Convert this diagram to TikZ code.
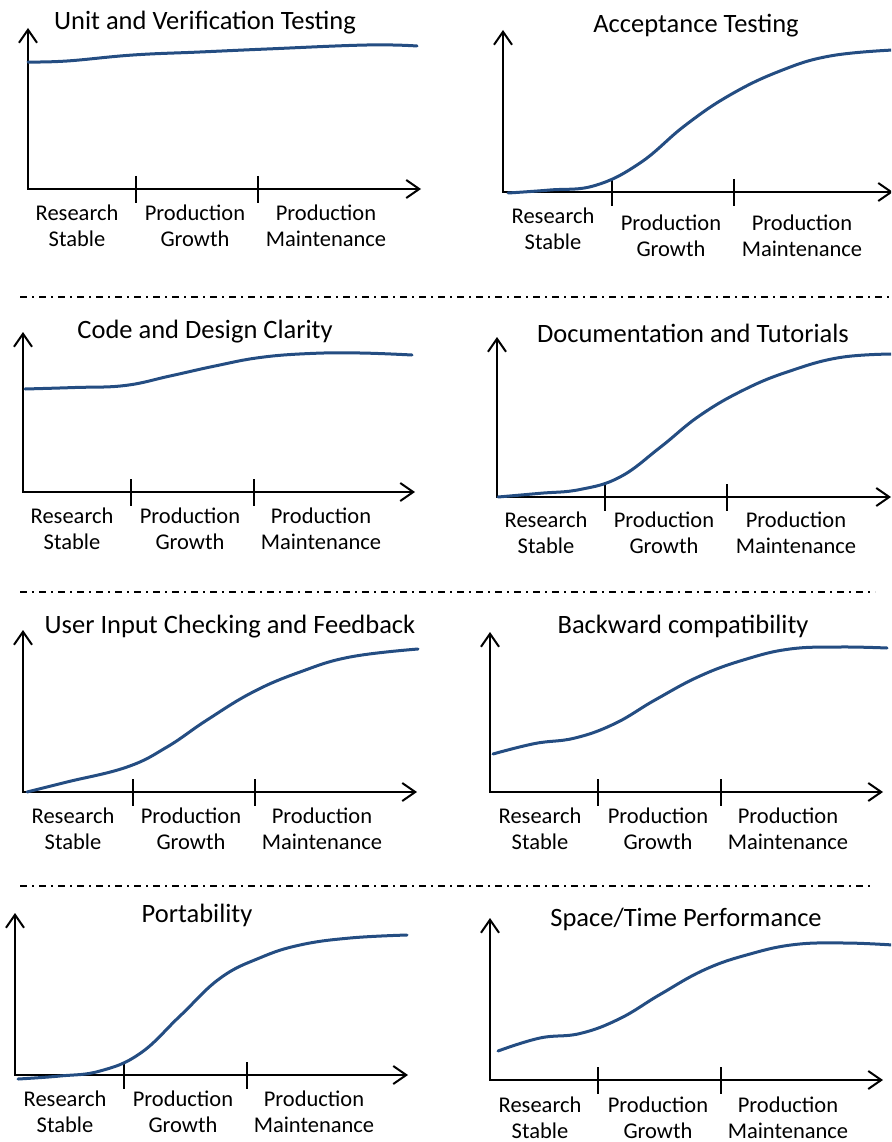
\documentclass[tikz,border=0pt]{standalone}
\usepackage{fontspec}
\setmainfont{Carlito}
\usetikzlibrary{arrows.meta}
\definecolor{curveblue}{RGB}{36,77,130}
\tikzset{
  axis/.style={line width=2pt, black, line join=miter, {Straight Barb[length=13pt,width=18pt]}-{Straight Barb[length=13pt,width=18pt]}},
  tickmark/.style={line width=1.4pt, black},
  curve/.style={line width=3pt, curveblue, line cap=round},
  sep/.style={line width=1.3pt, black, dash pattern=on 7pt off 5pt on 2pt off 5pt},
  lbl/.style={inner sep=0pt, anchor=base, font=\fontsize{22.5}{27}\selectfont},
  ttl/.style={inner sep=0pt, anchor=base, font=\fontsize{26.5}{31}\selectfont},
}
\newcommand\chartaxes[7]{% name, x0, y0, ytop, xtip, tick1, tick2
  \coordinate (#1o) at (#2,#3);
  \coordinate (#1y) at (#2,#4);
  \coordinate (#1x) at (#5,#3);
  \coordinate (#1ta) at (#6,#3-13); \coordinate (#1tb) at (#6,#3+14);
  \coordinate (#1tc) at (#7,#3-13); \coordinate (#1td) at (#7,#3+14);
  \draw[axis] (#1y) -- (#1o) -- (#1x);
  \draw[tickmark] (#1ta) -- (#1tb);
  \draw[tickmark] (#1tc) -- (#1td);
}
\newcommand\twolbl[5]{% name, x, baseline, line1, line2
  \node[lbl] (#1a) at (#2,#3) {#4};
  \node[lbl] (#1b) at (#2,#3+26.5) {#5};
}
\begin{document}
\begin{tikzpicture}[x=1pt,y=-1pt]
\useasboundingbox (0,0) rectangle (891,1142);
\clip (0,0) rectangle (891,1142);

% separators
\coordinate (s1a) at (20,297); \coordinate (s1b) at (891,297);
\coordinate (s2a) at (20,592); \coordinate (s2b) at (875,592);
\coordinate (s3a) at (20,886); \coordinate (s3b) at (870,886);
\draw[sep] (s1a) -- (s1b);
\draw[sep] (s2a) -- (s2b);
\draw[sep] (s3a) -- (s3b);

% Panel 1
\node[ttl] (t1) at (205,30) {Unit and Verification Testing};
\chartaxes{p1}{28}{189}{28}{421}{136}{258}
\draw[curve] plot[smooth, tension=0.7] coordinates {(28,62) (67,61) (133,55) (200,52) (267,49) (367,45) (417,46)};
\twolbl{p1r}{77}{220}{Research}{Stable}
\twolbl{p1g}{195}{220}{Production}{Growth}
\twolbl{p1m}{326}{220}{Production}{Maintenance}

% Panel 2
\node[ttl] (t2) at (696,33) {Acceptance Testing};
\chartaxes{p2}{503}{192}{30}{893}{612}{734}
\draw[curve] plot[smooth, tension=0.7] coordinates {(508,193) (550,190) (595,185.5) (640,163) (685,125.5) (730,95) (780,71) (830,56) (893,50)};
\twolbl{p2r}{553}{223}{Research}{Stable}
\twolbl{p2g}{671}{230}{Production}{Growth}
\twolbl{p2m}{802}{230}{Production}{Maintenance}

% Panel 3
\node[ttl] (t3) at (205,338) {Code and Design Clarity};
\chartaxes{p3}{23}{492}{332}{415}{131}{254}
\draw[curve] plot[smooth, tension=0.7] coordinates {(25,389) (75,387.5) (125,385.5) (170,376) (215,366) (260,357.5) (310,353.5) (360,353) (412,355)};
\twolbl{p3r}{72}{523}{Research}{Stable}
\twolbl{p3g}{190}{523}{Production}{Growth}
\twolbl{p3m}{321}{523}{Production}{Maintenance}

% Panel 4
\node[ttl] (t4) at (693,342) {Documentation and Tutorials};
\chartaxes{p4}{497}{497}{337}{891}{605}{727}
\draw[curve] plot[smooth, tension=0.7] coordinates {(498,497) (540,493.3) (580,489.5) (620,477) (660,447.5) (700,415.4) (745,389.3) (790,371) (840,357.5) (893,354)};
\twolbl{p4r}{546}{527}{Research}{Stable}
\twolbl{p4g}{664}{527}{Production}{Growth}
\twolbl{p4m}{796}{527}{Production}{Maintenance}

% Panel 5
\node[ttl] (t5) at (230,633) {User Input Checking and Feedback};
\chartaxes{p5}{23}{792}{630}{417}{133}{255}
\draw[curve] plot[smooth, tension=0.7] coordinates {(27,792) (67,782) (127,767) (167,747) (207,720) (253,692) (300,672) (350,657) (418,649)};
\twolbl{p5r}{73}{823}{Research}{Stable}
\twolbl{p5g}{191}{823}{Production}{Growth}
\twolbl{p5m}{322}{823}{Production}{Maintenance}

% Panel 6
\node[ttl] (t6) at (683,633) {Backward compatibility};
\chartaxes{p6}{490}{792}{632}{883}{598}{721}
\draw[curve] plot[smooth, tension=0.7] coordinates {(493,754) (535,743.5) (575,738) (615,723.5) (655,700) (700,676) (745,659.5) (790,649) (840,647) (887,648)};
\twolbl{p6r}{540}{823}{Research}{Stable}
\twolbl{p6g}{658}{823}{Production}{Growth}
\twolbl{p6m}{788}{823}{Production}{Maintenance}

% Panel 7
\node[ttl] (t7) at (197,922) {Portability};
\chartaxes{p7}{15}{1075}{913}{408}{124}{247}
\draw[curve] plot[smooth, tension=0.7] coordinates {(18,1079) (60,1076) (100,1071) (140,1053.5) (180,1016) (220,978.3) (260,957.8) (300,945) (350,938) (407,935)};
\twolbl{p7r}{65}{1106}{Research}{Stable}
\twolbl{p7g}{183}{1106}{Production}{Growth}
\twolbl{p7m}{314}{1106}{Production}{Maintenance}

% Panel 8
\node[ttl] (t8) at (686,926) {Space/Time Performance};
\chartaxes{p8}{490}{1080}{918}{883}{598}{721}
\draw[curve] plot[smooth, tension=0.7] coordinates {(498,1051) (540,1038) (580,1033.5) (620,1018.5) (660,994.5) (705,969.5) (750,954) (795,944.5) (845,943) (893,945)};
\twolbl{p8r}{540}{1112}{Research}{Stable}
\twolbl{p8g}{658}{1112}{Production}{Growth}
\twolbl{p8m}{788}{1112}{Production}{Maintenance}
\end{tikzpicture}
\end{document}
